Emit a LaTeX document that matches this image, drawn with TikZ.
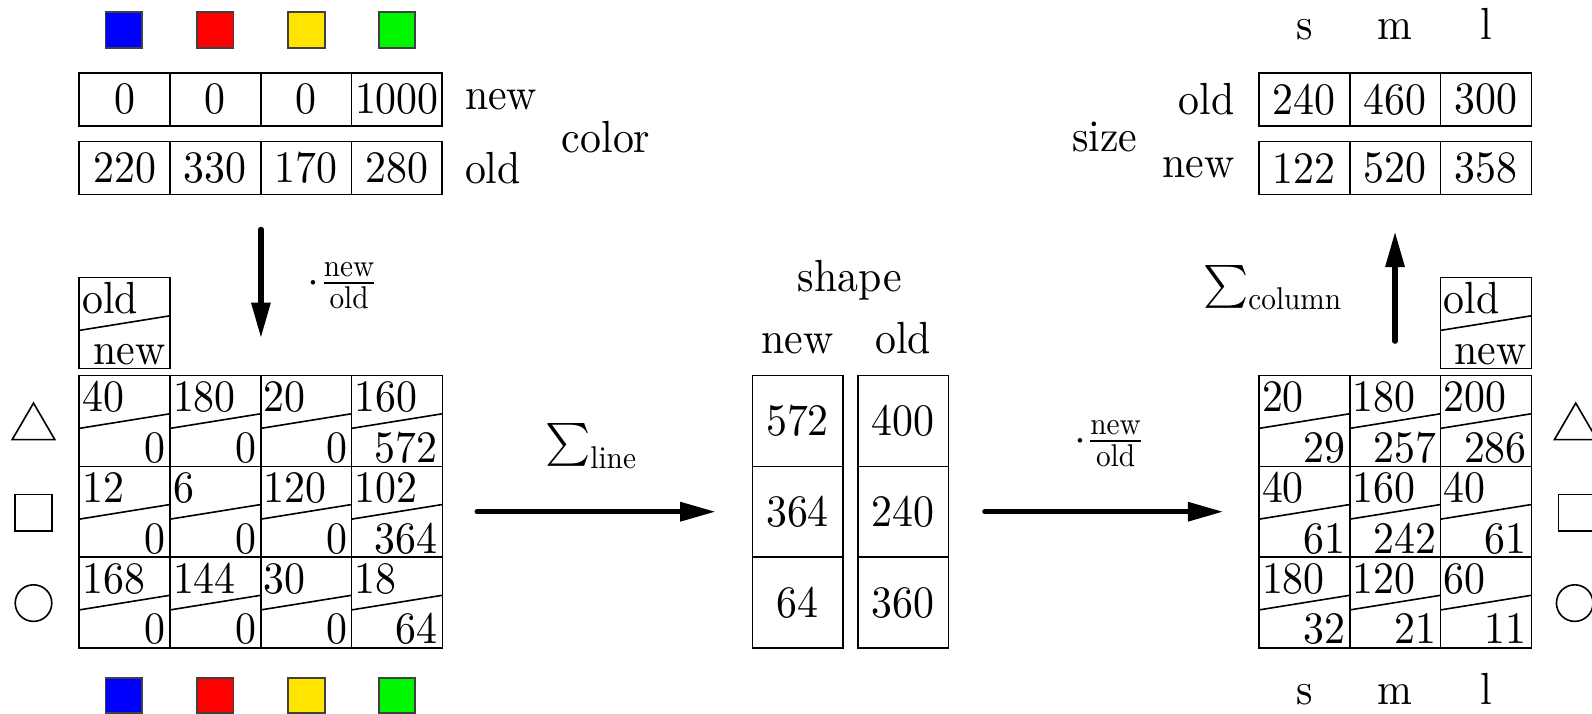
\documentclass[tikz,border=0pt]{standalone}
\usepackage{amsmath}
\usepackage{fontspec}
\setmainfont{lmroman10-regular}[Extension=.otf, FakeStretch=0.93]
\usetikzlibrary{arrows.meta}
\definecolor{cyel}{RGB}{255,228,0}
\definecolor{cgrn}{RGB}{0,245,0}
\tikzset{
  txt/.style={font=\fontsize{12.6}{15}\selectfont, inner sep=0pt, outer sep=0pt},
  thinline/.style={line width=0.45pt},
  gbox/.style={draw, thinline, minimum width=0.894cm, minimum height=0.894cm, inner sep=0pt, outer sep=0pt},
  tbox/.style={draw, thinline, txt, minimum width=0.894cm, minimum height=0.52cm},
  sbox/.style={draw, thinline, txt, minimum width=0.89cm, minimum height=0.894cm},
  csq/.style={draw=black!75, line width=0.5pt, minimum width=0.36cm, minimum height=0.35cm, inner sep=0pt},
  bigarrow/.style={line width=1.5pt, line cap=round, -{Triangle[length=0.35cm, width=0.18cm]}},
}
% name, x, y (top-left), upper text, lower text
\newcommand{\gcell}[5]{%
  \node[gbox, anchor=north west] (#1) at (#2,#3) {};
  \draw[thinline] ([yshift=-0.519cm]#1.north west) -- ([yshift=-0.375cm]#1.north east);
  \node[txt, anchor=base west] (#1t) at ([xshift=0.03cm, yshift=-0.355cm]#1.north west) {#4};
  \node[txt, anchor=base east] (#1b) at ([xshift=-0.045cm, yshift=0.04cm]#1.south east) {#5};
}
\begin{document}
\begin{tikzpicture}[x=0.01cm, y=-0.01cm]
\useasboundingbox (0,0) rectangle (1568,703);

% colour squares
\node[csq, fill=blue] (ct1) at (122,29.5) {};
\node[csq, fill=red]  (ct2) at (212,29.5) {};
\node[csq, fill=cyel] (ct3) at (302,29.5) {};
\node[csq, fill=cgrn] (ct4) at (391,29.5) {};
\node[csq, fill=blue] (cb1) at (122,685) {};
\node[csq, fill=red]  (cb2) at (212,685) {};
\node[csq, fill=cyel] (cb3) at (302,685) {};
\node[csq, fill=cgrn] (cb4) at (391,685) {};

% colour table
\node[tbox] (cn1) at (122.7,98) {0};
\node[tbox] (cn2) at (212.1,98) {0};
\node[tbox] (cn3) at (301.5,98) {0};
\node[tbox] (cn4) at (390.9,98) {1000};
\node[tbox] (co1) at (122.7,165.5) {220};
\node[tbox] (co2) at (212.1,165.5) {330};
\node[tbox] (co3) at (301.5,165.5) {170};
\node[tbox] (co4) at (390.9,165.5) {280};
\node[txt, anchor=west] (cnl) at (458,98) {new};
\node[txt, anchor=west] (col) at (458,165.5) {old};
\node[txt] (colorl) at (597,135) {color};

% size table
\node[txt, anchor=base] (st1) at (1284.7,39) {s};
\node[txt, anchor=base] (st2) at (1374.1,39) {m};
\node[txt, anchor=base] (st3) at (1463.5,39) {l};
\node[tbox] (so1) at (1284.7,98) {240};
\node[tbox] (so2) at (1374.1,98) {460};
\node[tbox] (so3) at (1463.5,98) {300};
\node[tbox] (sn1) at (1284.7,165.5) {122};
\node[tbox] (sn2) at (1374.1,165.5) {520};
\node[tbox] (sn3) at (1463.5,165.5) {358};
\node[txt, anchor=east] (sol) at (1216,98) {old};
\node[txt, anchor=east] (snl) at (1216,165.5) {new};
\node[txt] (sizel) at (1088,135) {size};

% left header box
\gcell{lh}{78}{273.5}{old}{new}
% left grid
\gcell{la1}{78}{370}{40}{0}
\gcell{la2}{167.4}{370}{180}{0}
\gcell{la3}{256.8}{370}{20}{0}
\gcell{la4}{346.2}{370}{160}{572}
\gcell{lb1}{78}{459.4}{12}{0}
\gcell{lb2}{167.4}{459.4}{6}{0}
\gcell{lb3}{256.8}{459.4}{120}{0}
\gcell{lb4}{346.2}{459.4}{102}{364}
\gcell{lc1}{78}{548.8}{168}{0}
\gcell{lc2}{167.4}{548.8}{144}{0}
\gcell{lc3}{256.8}{548.8}{30}{0}
\gcell{lc4}{346.2}{548.8}{18}{64}

% right header box
\gcell{rh}{1418.8}{273.5}{old}{new}
% right grid
\gcell{ra1}{1240}{370}{20}{29}
\gcell{ra2}{1329.4}{370}{180}{257}
\gcell{ra3}{1418.8}{370}{200}{286}
\gcell{rb1}{1240}{459.4}{40}{61}
\gcell{rb2}{1329.4}{459.4}{160}{242}
\gcell{rb3}{1418.8}{459.4}{40}{61}
\gcell{rc1}{1240}{548.8}{180}{32}
\gcell{rc2}{1329.4}{548.8}{120}{21}
\gcell{rc3}{1418.8}{548.8}{60}{11}
\node[txt, anchor=base] (sb1) at (1284.7,694) {s};
\node[txt, anchor=base] (sb2) at (1374.1,694) {m};
\node[txt, anchor=base] (sb3) at (1463.5,694) {l};

% shape table
\node[txt, anchor=base] (shapel) at (837,287) {shape};
\node[txt, anchor=base] (shn) at (785.5,348) {new};
\node[txt, anchor=base] (sho) at (889.5,348) {old};
\node[sbox] (shn1) at (785.5,414.7) {572};
\node[sbox] (shn2) at (785.5,504.1) {364};
\node[sbox] (shn3) at (785.5,593.5) {64};
\node[sbox] (sho1) at (889.5,414.7) {400};
\node[sbox] (sho2) at (889.5,504.1) {240};
\node[sbox] (sho3) at (889.5,593.5) {360};

% shapes (left and right)
\draw[thinline] (12,433) -- (54,433) -- (33,397) -- cycle;
\draw[thinline] (15,487) rectangle (51,523);
\draw[thinline] (33,594) circle[radius=0.18cm];
\draw[thinline] (1531,433) -- (1573,433) -- (1552,397) -- cycle;
\draw[thinline] (1535,487) rectangle (1571,523);
\draw[thinline] (1551,594) circle[radius=0.18cm];

% arrows
\coordinate (d1) at (257,226);
\coordinate (d2) at (257,333);
\coordinate (h1) at (470,504);
\coordinate (h2) at (705,504);
\coordinate (k1) at (970,504);
\coordinate (k2) at (1205,504);
\coordinate (u1) at (1374,336);
\coordinate (u2) at (1374,228);
\draw[bigarrow] (d1) -- (d2);
\draw[bigarrow] (h1) -- (h2);
\draw[bigarrow] (k1) -- (k2);
\draw[bigarrow] (u1) -- (u2);

% operation labels
\node[txt, anchor=base west] (opd) at (303,289) {$\cdot\frac{\text{new}}{\text{old}}$};
\node[txt, anchor=base west] (oph) at (537,449) {$\sum_{\text{line}}$};
\node[txt, anchor=base west] (opk) at (1058,445) {$\cdot\frac{\text{new}}{\text{old}}$};
\node[txt, anchor=base west] (opu) at (1185,293) {$\sum_{\text{column}}$};
\end{tikzpicture}
\end{document}
